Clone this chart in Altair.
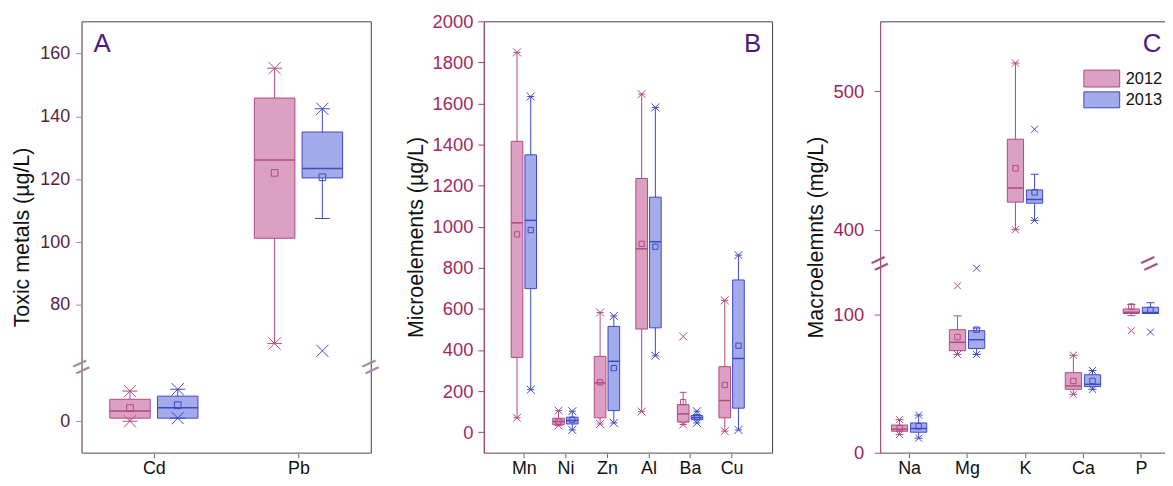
import altair as alt
import pandas as pd

FONT = "Liberation Sans"
YEARS = ["2012", "2013"]
BOX_FILL = ["#dca0c2", "#a4abea"]
BOX_EDGE = ["#b04a82", "#3e49c4"]

# ---------------- Panel A : toxic metals (ug/L) ----------------
A_cats = ["Cd", "Pb"]
A_q1 = {"2012": [1.0, 101.2], "2013": [1.0, 120.4]}
A_med = {"2012": [3.3, 126.1], "2013": [4.3, 123.4]}
A_q3 = {"2012": [7.0, 145.8], "2013": [8.0, 135.0]}
A_mean = {"2012": [4.2, 122.0], "2013": [5.1, 120.6]}
A_wlo = {"2012": [0.0, 67.7], "2013": [1.0, 107.5]}
A_whi = {"2012": [9.6, 155.3], "2013": [10.2, 142.4]}
A_marks = {"2012": [[0.0, 9.6], [67.7, 155.3]], "2013": [[1.0, 10.2], [65.4, 142.4]]}
A_ticks = [0, 80, 100, 120, 140, 160]
A_range = [-10, 170.2]
A_break = [17, 60]          # axis jumps from 17 to 60

# ---------------- Panel B : microelements (ug/L) ----------------
B_cats = ["Mn", "Ni", "Zn", "Al", "Ba", "Cu"]
B_q1 = {"2012": [364, 36, 70, 502, 49, 70], "2013": [699, 40, 105, 508, 61, 117]}
B_med = {"2012": [1019, 52, 240, 893, 89, 154], "2013": [1031, 57, 345, 927, 71, 359]}
B_q3 = {"2012": [1416, 68, 369, 1235, 134, 319], "2013": [1350, 73, 515, 1144, 81, 741]}
B_mean = {"2012": [963, 52, 243, 917, 146, 230], "2013": [984, 61, 312, 903, 73, 421]}
B_wlo = {"2012": [70, 32, 40, 100, 37, 5], "2013": [207, 11, 45, 372, 45, 11]}
B_whi = {"2012": [1849, 105, 583, 1646, 194, 642], "2013": [1634, 102, 566, 1581, 102, 862]}
B_marks = {
    "2012": [[70, 1849], [32, 105], [40, 583], [100, 1646], [37, 466], [5, 642]],
    "2013": [[207, 1634], [11, 102], [45, 566], [372, 1581], [45, 102], [11, 862]],
}
B_ticks = [0, 200, 400, 600, 800, 1000, 1200, 1400, 1600, 1800, 2000]
B_range = [-100, 2000]

# ---------------- Panel C : macroelements (mg/L) ----------------
C_cats = ["Na", "Mg", "K", "Ca", "P"]
C_q1 = {"2012": [15.5, 73.7, 419.9, 45.8, 100.5], "2013": [14.8, 75.2, 419.1, 47.7, 100.5]}
C_med = {"2012": [17.0, 79.7, 430.1, 48.2, 101.4], "2013": [17.5, 81.6, 421.8, 49.4, 101.2]}
C_q3 = {"2012": [20.0, 88.8, 465.3, 57.8, 103.8], "2013": [21.5, 88.1, 428.7, 56.3, 105.0]}
C_mean = {"2012": [17.7, 83.5, 444.3, 51.8, 105.5], "2013": [19.1, 88.8, 427.0, 51.8, 103.0]}
C_wlo = {"2012": [13.1, 70.9, 400.0, 42.2, 99.0], "2013": [10.5, 70.9, 406.7, 45.8, 100.5]}
C_whi = {"2012": [23.9, 98.8, 520.3, 70.4, 107.0], "2013": [27.2, 90.0, 440.0, 59.4, 108.3]}
C_marks = {
    "2012": [[13.1, 23.9], [70.9, 120.5], [400.0, 520.3], [42.2, 70.4], [88.1]],
    "2013": [[10.5, 27.2], [70.9, 133.2], [406.7, 472.5], [45.8, 59.4], [87.1]],
}
C_ticks = [0, 100, 400, 500]
C_range = [0, 550.4]
C_break = [136, 375]        # axis jumps from 136 to 375

XMARK = "M-1,-1L1,1M-1,1L1,-1"
YEAR_SHIFT = {"2012": -0.165, "2013": 0.165}   # box centre offset, in category steps
BOX_HALF = 0.14                                # half box width, in category steps
PLOT_H = 434


def shift(v, brk):
    if brk is None:
        return v
    lo, hi = brk
    return v - (hi - lo) if v >= hi else v


def build(cats, q1, med, q3, mean, wlo, whi, marks, brk, cap_half):
    rows, xrows = [], []
    for yr in YEARS:
        for i, c in enumerate(cats):
            p = i + YEAR_SHIFT[yr]
            rows.append({
                "cat": c, "year": yr, "pos": p,
                "left": p - BOX_HALF, "right": p + BOX_HALF,
                "capl": p - cap_half, "capr": p + cap_half,
                "q1": shift(q1[yr][i], brk), "med": shift(med[yr][i], brk),
                "q3": shift(q3[yr][i], brk), "mean": shift(mean[yr][i], brk),
                "wlo": shift(wlo[yr][i], brk), "whi": shift(whi[yr][i], brk),
            })
            for v in marks[yr][i]:
                xrows.append({"cat": c, "year": yr, "pos": p, "v": shift(v, brk)})
    return pd.DataFrame(rows), pd.DataFrame(xrows)


def panel(cats, q1, med, q3, mean, wlo, whi, marks, brk, ticks, yrange, xdomain, width,
          title, lab_color, dom_color, lab_size, lab_pad, title_pad, cap_half,
          x_size, sq_size, letter, letter_x, letter_align, with_legend, right_break_x,
          right_room=0):
    df, xdf = build(cats, q1, med, q3, mean, wlo, whi, marks, brk, cap_half)
    hi = shift(yrange[1], brk)
    tick_vals = [shift(t, brk) for t in ticks]
    if brk is not None:
        lexpr = "datum.value > %g ? datum.value + %g : datum.value" % (brk[0], brk[1] - brk[0])
    else:
        lexpr = "datum.value"
    yscale = alt.Scale(domain=[yrange[0], hi], nice=False, zero=False)
    yaxis = alt.Axis(
        title=title, values=tick_vals, labelExpr=lexpr, grid=False,
        labelColor=lab_color, labelFontSize=lab_size, labelFont=FONT,
        titleFont=FONT, titleFontSize=21.5, titleFontWeight="normal", titleColor="#111111",
        domainColor=dom_color, tickColor=dom_color, tickSize=6, labelPadding=lab_pad,
        titlePadding=title_pad,
    )
    names = "[" + ",".join("'%s'" % c for c in cats) + "]"
    xscale = alt.Scale(domain=xdomain, nice=False, zero=False)
    xaxis = alt.Axis(
        title=None, values=list(range(len(cats))), labelExpr=names + "[round(datum.value)]",
        labelAngle=0, labelFont=FONT, labelFontSize=18, labelColor="#111111",
        domainColor="#9a9a9a", tickColor="#666666", tickSize=5, labelPadding=1.5, grid=False,
        labelFlush=False,
    )

    def X(field):
        return alt.X(field, type="quantitative", scale=xscale, axis=xaxis)

    def Y(field):
        return alt.Y(field, type="quantitative", scale=yscale, axis=yaxis)

    edge = alt.Color("year:N", scale=alt.Scale(domain=YEARS, range=BOX_EDGE), legend=None)
    fill = alt.Fill("year:N", scale=alt.Scale(domain=YEARS, range=BOX_FILL), legend=None)
    stroke = alt.Stroke("year:N", scale=alt.Scale(domain=YEARS, range=BOX_EDGE), legend=None)

    base = alt.Chart(df)
    whisk = base.mark_rule(strokeWidth=1).encode(x=X("pos"), y=Y("wlo"), y2="whi:Q", color=edge)
    box = base.mark_rect(strokeWidth=1).encode(x=X("left"), x2="right:Q", y=Y("q1"), y2="q3:Q",
                                               fill=fill, stroke=stroke)
    median = base.mark_rule(strokeWidth=1.5).encode(x=X("left"), x2="right:Q", y=Y("med"), color=edge)
    cap_lo = base.mark_rule(strokeWidth=1).encode(x=X("capl"), x2="capr:Q", y=Y("wlo"), color=edge)
    cap_hi = base.mark_rule(strokeWidth=1).encode(x=X("capl"), x2="capr:Q", y=Y("whi"), color=edge)
    mean_pt = base.mark_point(shape="square", filled=False, size=sq_size, strokeWidth=1,
                              opacity=1).encode(x=X("pos"), y=Y("mean"), color=edge)
    xm = alt.Chart(xdf).mark_point(shape=XMARK, filled=False, size=x_size, strokeWidth=1,
                                   opacity=1).encode(x=X("pos"), y=Y("v"), color=edge)
    layers = [whisk, box, median, cap_lo, cap_hi, mean_pt, xm]

    ldf = pd.DataFrame({"t": [letter]})
    if brk is not None:
        bdf = pd.DataFrame({"b": [brk[0]]})
        for xpos in (0, right_break_x):
            layers.append(
                alt.Chart(bdf).mark_text(text="=", font=FONT, fontSize=30, angle=335,
                                         color=dom_color, baseline="middle", align="center")
                .encode(x=alt.value(xpos), y=Y("b"))
            )
    if right_room:
        # invisible spacer line so that the gap to the next panel matches the reference
        layers.append(
            alt.Chart(ldf).mark_rule(strokeWidth=1, opacity=0)
            .encode(x=alt.value(width + right_room), y=alt.value(0), y2=alt.value(PLOT_H))
        )
    layers.append(
        alt.Chart(ldf).mark_text(font=FONT, fontSize=26, color="#4e1a80", align=letter_align,
                                 baseline="middle")
        .encode(text="t:N", x=alt.value(letter_x), y=alt.value(23))
    )
    # keeps the top edge of every panel level with panel B's top tick label
    layers.append(
        alt.Chart(ldf).mark_text(text=" ", font=FONT, fontSize=18.5, baseline="middle", opacity=0)
        .encode(x=alt.value(20), y=alt.value(0))
    )
    if with_legend:
        # year key, drawn inside the upper right corner of the panel (x in category steps,
        # y in axis units of this panel)
        key = pd.DataFrame({
            "year": YEARS,
            "x0": [3.016, 3.016], "x1": [3.634, 3.634], "tx": [3.737, 3.737],
            "y0": [276.2, 260.5], "y1": [264.0, 249.0], "ty": [270.1, 254.7],
        })
        kc = alt.Chart(key)
        layers.append(kc.mark_rect(strokeWidth=1).encode(
            x=X("x0"), x2="x1:Q", y=Y("y0"), y2="y1:Q", fill=fill, stroke=stroke))
        layers.append(kc.mark_text(font=FONT, fontSize=16.5, color="#111111", align="left",
                                   baseline="middle").encode(x=X("tx"), y=Y("ty"), text="year:N"))
    return alt.layer(*layers).properties(width=width, height=PLOT_H)


pA = panel(A_cats, A_q1, A_med, A_q3, A_mean, A_wlo, A_whi, A_marks, A_break, A_ticks, A_range,
           [-0.5, 1.5], 291, "Toxic metals (\u00b5g/L)", "#5a1d3e", "#a888a8", 18, 6, 6, 0.0515,
           150, 45, "A", 12, "left", False, 291)
pB = panel(B_cats, B_q1, B_med, B_q3, B_mean, B_wlo, B_whi, B_marks, None, B_ticks, B_range,
           [-0.964, 5.974], 290, "Microelements (\u00b5g/L)", "#a02a62", "#a8406e", 18.5, 5, 5, 0.084,
           64, 28, "B", 279, "right", False, 0, right_room=13)
pC = panel(C_cats, C_q1, C_med, C_q3, C_mean, C_wlo, C_whi, C_marks, C_break, C_ticks, C_range,
           [-0.5, 4.5], 291.5, "Macroelemnts (mg/L)", "#9c1f5c", "#b0507a", 18.5, 10.5, 5.9, 0.069,
           50, 30, "C", 283, "right", True, 271)

chart = (
    alt.hconcat(pA, pB, pC, spacing=18.7)
    .properties(padding={"left": 3, "top": 2, "right": -6, "bottom": -1.5})
    .configure_view(stroke="#444444", strokeWidth=1)
    .configure_axis(labelFont=FONT, titleFont=FONT)
)

chart.save("out.html", embed_options={"renderer": "svg", "actions": False})
